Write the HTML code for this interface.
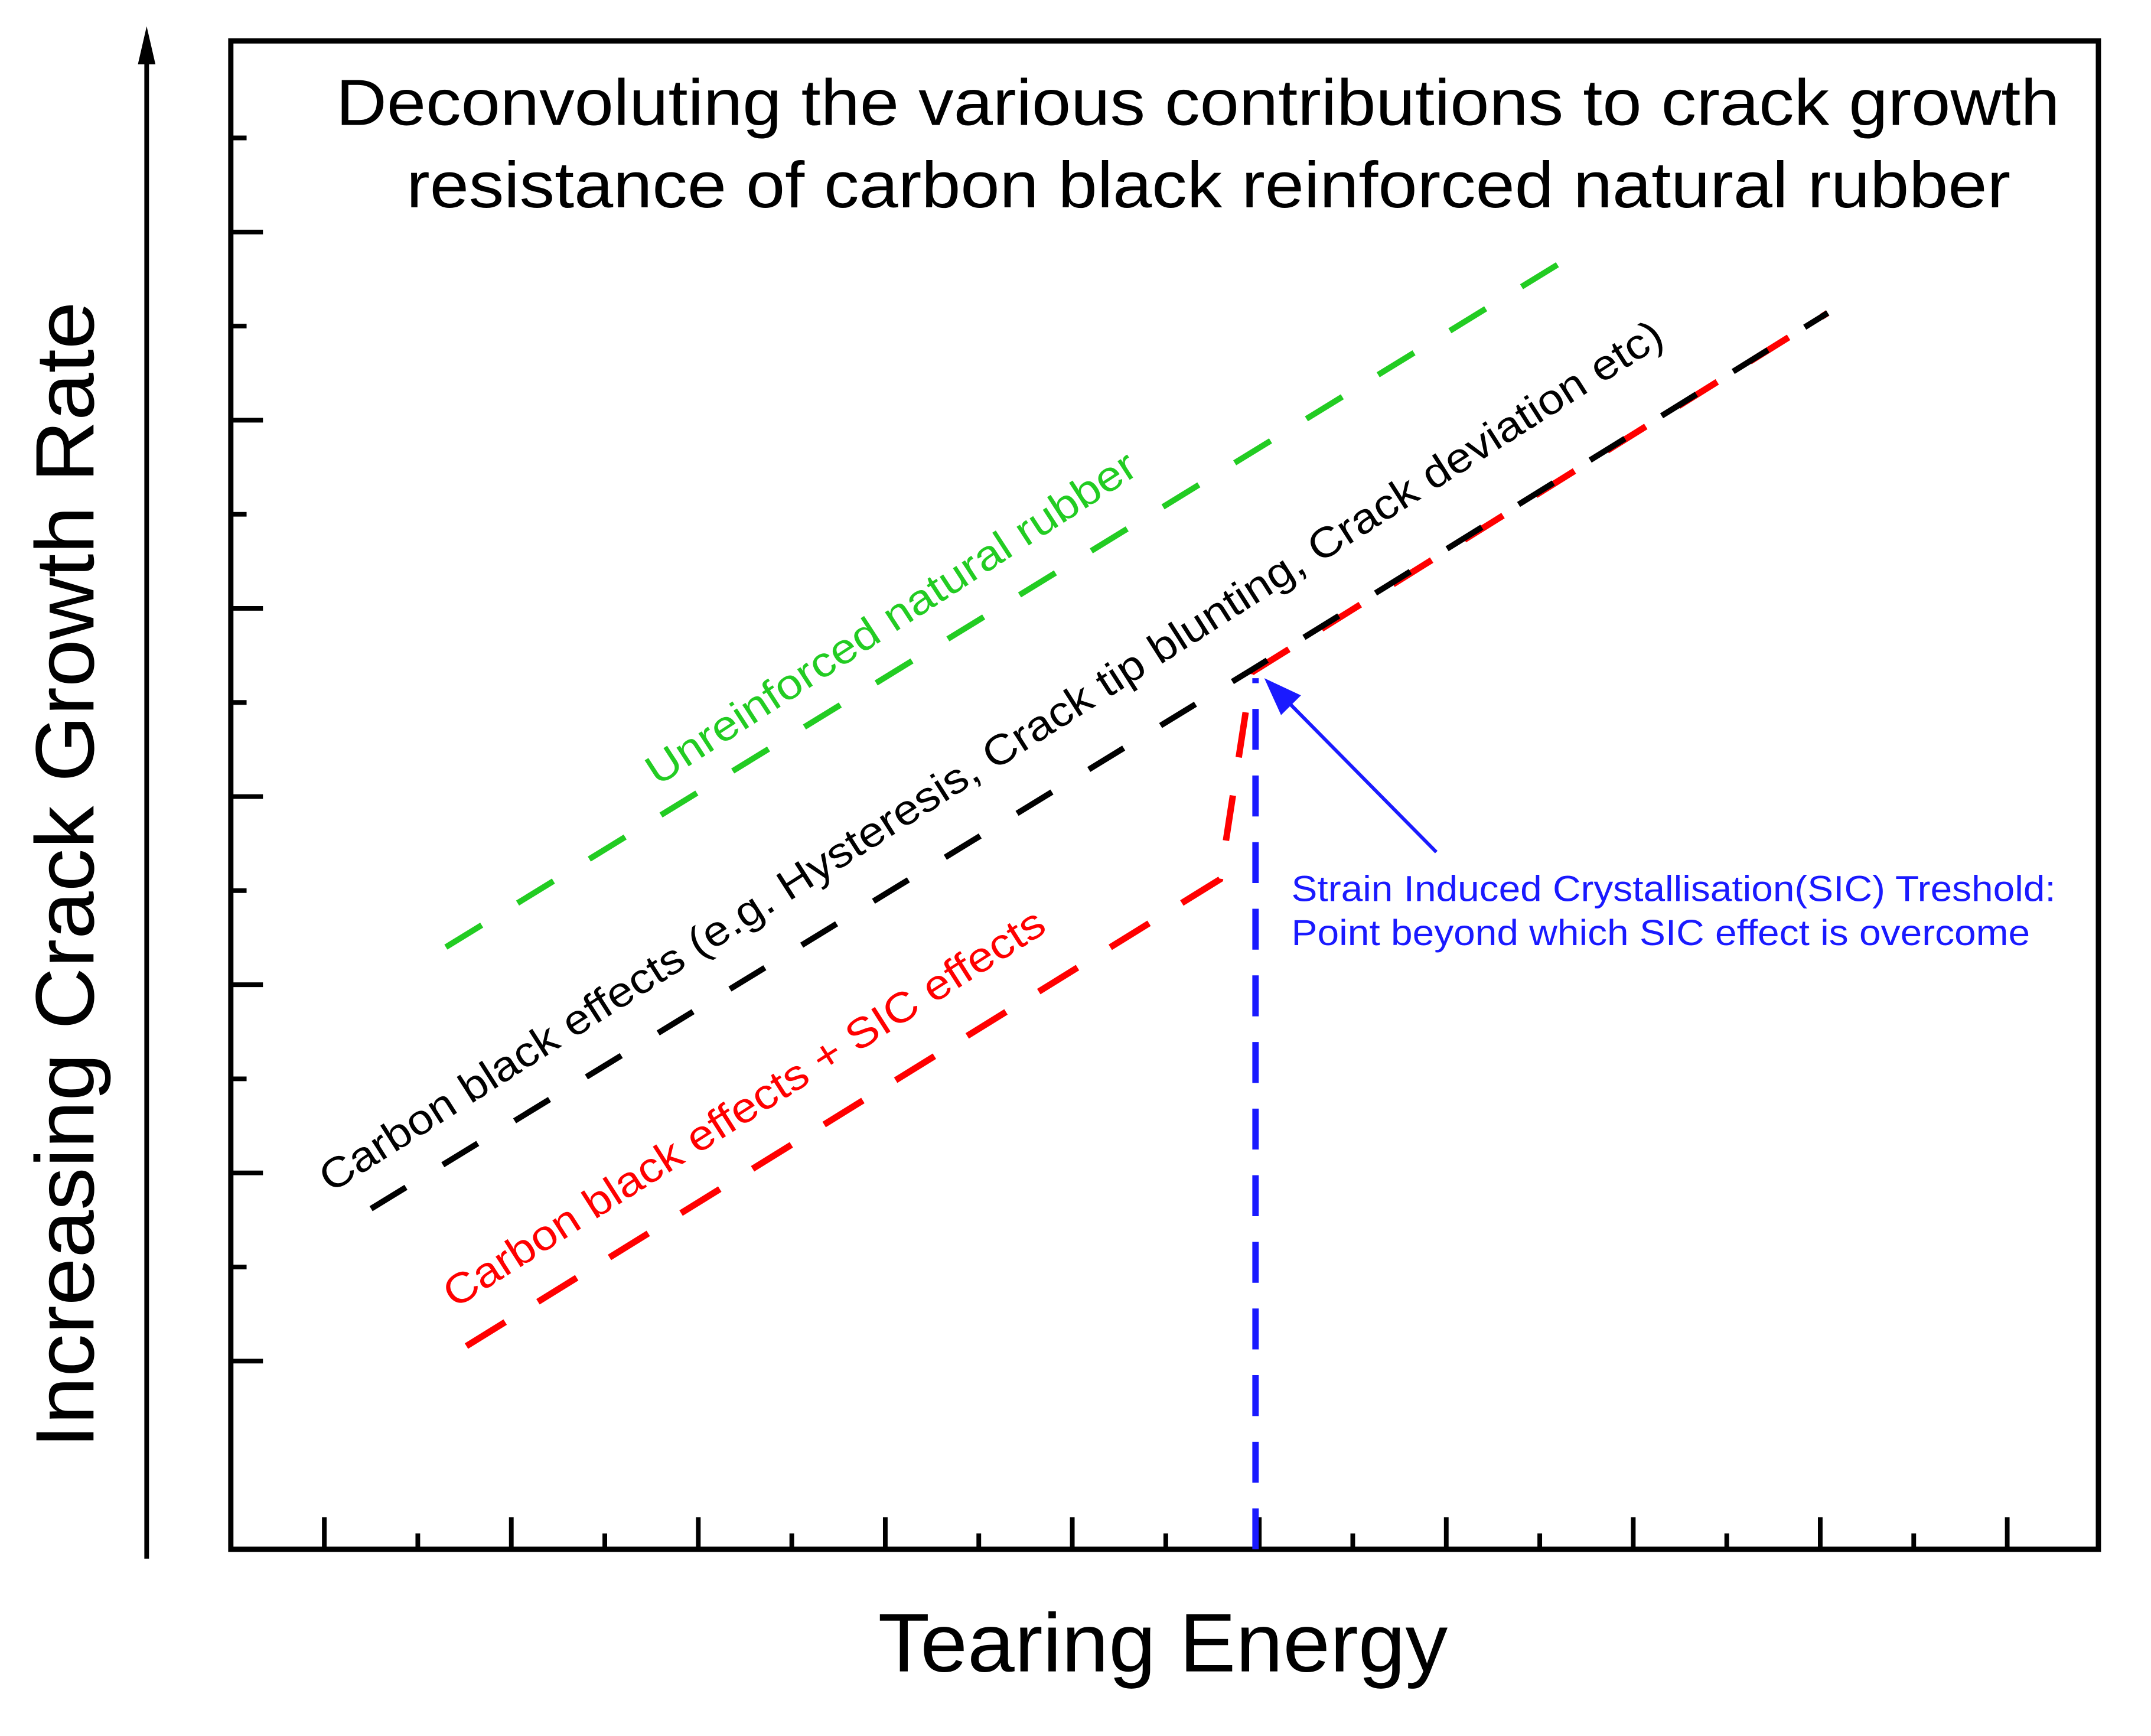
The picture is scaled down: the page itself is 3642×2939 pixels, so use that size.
<!DOCTYPE html>
<html><head><meta charset="utf-8"><style>
html,body{margin:0;padding:0;background:#fff;}
svg{display:block;font-family:"Liberation Sans",Arial,sans-serif;}
</style></head><body>
<svg width="3642" height="2939" viewBox="0 0 3642 2939">
<g transform="scale(0.9894)">
<g id="axes"></g>
<g id="series"></g>
<text x="2050" y="214" font-size="112" text-anchor="middle" textLength="2950" lengthAdjust="spacingAndGlyphs">Deconvoluting the various contributions to crack growth</text>
<text x="2068" y="355" font-size="112" text-anchor="middle" textLength="2745" lengthAdjust="spacingAndGlyphs">resistance of carbon black reinforced natural rubber</text>
<text transform="translate(160,1497) rotate(-90)" font-size="142" text-anchor="middle" textLength="1962" lengthAdjust="spacingAndGlyphs">Increasing Crack Growth Rate</text>
<text x="1990" y="2860" font-size="142" text-anchor="middle" textLength="975" lengthAdjust="spacingAndGlyphs">Tearing Energy</text>
<text transform="translate(1125,1346) rotate(-33)" font-size="72" fill="#22cc22" textLength="985" lengthAdjust="spacingAndGlyphs">Unreinforced natural rubber</text>
<text transform="translate(566,2042) rotate(-32.5)" font-size="72" fill="#000" textLength="2710" lengthAdjust="spacingAndGlyphs">Carbon black effects (e.g. Hysteresis, Crack tip blunting, Crack deviation etc)</text>
<text transform="translate(778,2240) rotate(-32.5)" font-size="72" fill="#ff0000" textLength="1205" lengthAdjust="spacingAndGlyphs">Carbon black effects + SIC effects</text>
<text x="2210" y="1542" font-size="62" fill="#1a1aff" textLength="1308" lengthAdjust="spacingAndGlyphs">Strain Induced Crystallisation(SIC) Treshold:</text>
<text x="2210" y="1617" font-size="62" fill="#1a1aff" textLength="1264" lengthAdjust="spacingAndGlyphs">Point beyond which SIC effect is overcome</text>
</g>
</svg>
<script>
const greenX = [0.65, 6.65];
const greenY = [3.2, 6.86];
const blackX = [0.25, 4.97, 8.04];
const blackY = [1.81, 4.68, 6.57];
const redX = [0.76, 4.79, 4.96, 8.04];
const redY = [1.08, 3.56, 4.66, 6.57];
const thresholdX = [4.98];
const xMajorTicks = [0,1,2,3,4,5,6,7,8,9];
const yMajorTicks = [1,2,3,4,5,6,7];

const NS = "http://www.w3.org/2000/svg";
const L = 395, R = 3591, T = 70, B = 2651;
const X0 = 555, XS = 320, YS = 322;
function sx(v){ return X0 + v * XS; }
function sy(v){ return B - v * YS; }
function mk(tag, attrs, parent){
  const e = document.createElementNS(NS, tag);
  for (const k in attrs) e.setAttribute(k, attrs[k]);
  parent.appendChild(e); return e;
}
const axes = document.getElementById('axes');
const series = document.getElementById('series');

const frame = mk('rect', {x:L, y:T, width:R-L, height:B-T, fill:'none', stroke:'#000', 'stroke-width':9}, axes);



const yArrow = mk('line', {x1:251, y1:2667, x2:251, y2:100, stroke:'#000', 'stroke-width':8}, axes);


const yHead = mk('polygon', {points:'251,45 236,110 266,110', fill:'#000'}, axes);



xMajorTicks.forEach(function(v){
  const t = mk('line', {x1:sx(v), y1:B, x2:sx(v), y2:B-55, stroke:'#000', 'stroke-width':8}, axes);
  
  
  if (sx(v+0.5) < R) {
    const m = mk('line', {x1:sx(v+0.5), y1:B, x2:sx(v+0.5), y2:B-27, stroke:'#000', 'stroke-width':8}, axes);
    
    
  }
});
yMajorTicks.forEach(function(v){
  const t = mk('line', {x1:L, y1:sy(v), x2:L+55, y2:sy(v), stroke:'#000', 'stroke-width':8}, axes);
  
  
  const m = mk('line', {x1:L, y1:sy(v+0.5), x2:L+27, y2:sy(v+0.5), stroke:'#000', 'stroke-width':8}, axes);
  
  
});

function pts(xs, ys){ return xs.map(function(x,i){ return sx(x)+','+sy(ys[i]); }).join(' '); }

const gl = mk('polyline', {points:pts(greenX, greenY), fill:'none', stroke:'#22cc22', 'stroke-width':10, 'stroke-dasharray':'72 72'}, series);



const rl = mk('polyline', {points:pts(redX, redY), fill:'none', stroke:'#ff0000', 'stroke-width':11, 'stroke-dasharray':'78 66'}, series);



const bl = mk('polyline', {points:pts(blackX, blackY), fill:'none', stroke:'#000', 'stroke-width':10, 'stroke-dasharray':'70 74'}, series);



const tl = mk('line', {x1:sx(thresholdX[0]), y1:B, x2:sx(thresholdX[0]), y2:sy(4.66)+10, stroke:'#1a1aff', 'stroke-width':11, 'stroke-dasharray':'70 44'}, series);



const ax1 = 2458, ay1 = 1458, ax2 = sx(thresholdX[0]) + 15, ay2 = sy(4.66) + 10;
const al = mk('line', {x1:ax1, y1:ay1, x2:ax2+40, y2:ay2+40, stroke:'#1a1aff', 'stroke-width':6}, series);


const ang = Math.atan2(ay1-ay2, ax1-ax2);
const hl = 65, hw = 24;
const bx = ax2 + hl*Math.cos(ang), by = ay2 + hl*Math.sin(ang);
const px = -Math.sin(ang)*hw, py = Math.cos(ang)*hw;
const ah = mk('polygon', {points: ax2+','+ay2+' '+(bx+px)+','+(by+py)+' '+(bx-px)+','+(by-py), fill:'#1a1aff'}, series);


</script>
</body></html>
